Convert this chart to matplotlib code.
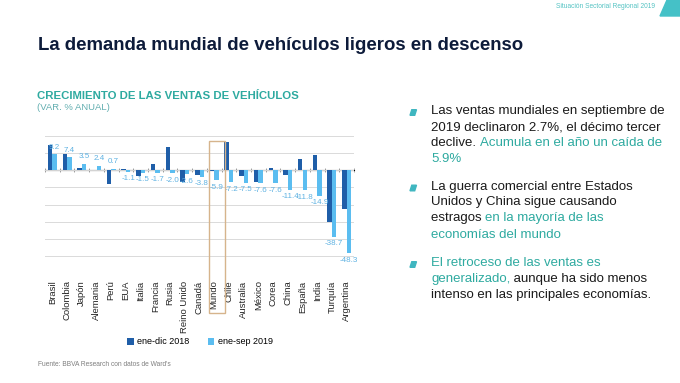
import matplotlib.pyplot as plt
from matplotlib.patches import Rectangle, Polygon

plt.rcParams['font.family'] = ['Liberation Sans', 'DejaVu Sans']

W, H = 680, 383

countries = ["Brasil", "Colombia", "Japón", "Alemania", "Perú", "EUA", "Italia",
             "Francia", "Rusia", "Reino Unido", "Canadá", "Mundo", "Chile",
             "Australia", "México", "Corea", "China", "España", "India",
             "Turquía", "Argentina"]
v2018 = [14.3, 9.5, 1.0, -0.2, -8.3, 0.6, -3.5, 3.3, 13.5, -7.0, -2.7, -0.5,
         16.0, -3.3, -7.1, 1.4, -2.9, 6.2, 8.9, -30.0, -22.6]
v2019 = [9.2, 7.4, 3.5, 2.4, 0.7, -1.1, -1.5, -1.7, -2.0, -2.6, -3.8, -5.9,
         -7.2, -7.5, -7.6, -7.6, -11.4, -11.8, -14.9, -38.7, -48.3]
series_names = ["ene-dic 2018", "ene-sep 2019"]
highlight = "Mundo"

DARK = "#1f5ea8"
LIGHT = "#5bbdf0"
LABEL_C = "#5fb2e2"
TEAL = "#2eaaa0"
NAVY = "#0d1b3a"
INK = "#1a1a1a"


def fx(px):
    return px / W


def fy(py):
    return 1 - py / H


fig = plt.figure(figsize=(W / 100, H / 100), dpi=100)
fig.patch.set_facecolor("white")

# header
fig.text(fx(38), fy(45), "La demanda mundial de vehículos ligeros en descenso",
         fontsize=13.4, fontweight="bold", color=NAVY, va="center", ha="left")
fig.text(fx(655), fy(7), "Situación Sectorial Regional 2019", fontsize=4.8,
         color="#55c3c3", va="center", ha="right")
fig.patches.append(Polygon([(fx(660), fy(16)), (fx(667), fy(0)), (fx(680), fy(0)),
                            (fx(680), fy(16))], closed=True, color="#45c1c7",
                           transform=fig.transFigure, figure=fig))

fig.text(fx(37), fy(96), "CRECIMIENTO DE LAS VENTAS DE VEHÍCULOS", fontsize=8.2,
         fontweight="bold", color=TEAL, va="center", ha="left")
fig.text(fx(37), fy(107.5), "(VAR. % ANUAL)", fontsize=6.8, color="#62aeb0",
         va="center", ha="left")

# chart
ax = fig.add_axes([fx(45), fy(273.5), fx(354) - fx(45), fy(135.5) - fy(273.5)])
x = list(range(len(countries)))
bw = 0.31
ax.bar([i - bw / 2 for i in x], v2018, width=bw, color=DARK, label=series_names[0], zorder=3)
bars = ax.bar([i + bw / 2 for i in x], v2019, width=bw, color=LIGHT, label=series_names[1], zorder=3)
for rect, v in zip(bars, v2019):
    cx = rect.get_x() + rect.get_width() / 2
    if v >= 0:
        ax.annotate(f"{v:.1f}", (cx, v), xytext=(0, 2.5), textcoords="offset points",
                    ha="center", va="bottom", fontsize=5.8, color=LABEL_C)
    else:
        ax.annotate(f"{v:.1f}", (cx, v), xytext=(0, -2.5), textcoords="offset points",
                    ha="center", va="top", fontsize=5.8, color=LABEL_C)

ymin, ymax = -60, 20
ax.set_ylim(ymin, ymax)
ax.set_xlim(-0.5, len(countries) - 0.5)
ax.set_yticks(range(ymin, ymax + 1, 10))
ax.tick_params(axis="y", left=False, labelleft=False)
ax.grid(axis="y", color="#dadada", linewidth=0.7, zorder=0)
ax.set_axisbelow(True)
for s in ax.spines.values():
    s.set_visible(False)
ax.set_xticks(x)
ax.set_xticklabels(countries, rotation=90, fontsize=6.8, color="#262626")
ax.tick_params(axis="x", length=0, pad=5)

# zero line with category ticks
zero = ax.secondary_xaxis((0 - ymin) / (ymax - ymin))
zero.set_xticks([i - 0.5 for i in range(len(countries) + 1)])
zero.set_xticklabels([])
zero.tick_params(axis="x", length=3, direction="inout", color="#a6a6a6", width=0.7)
zero.spines["bottom"].set_color("#a6a6a6")
zero.spines["bottom"].set_linewidth(0.8)

hi = countries.index(highlight)
ax.add_patch(Rectangle((hi - 0.35, -83), 1.1, 100, fill=False, edgecolor="#d6b48c",
                       linewidth=1.0, clip_on=False, zorder=5))

fig.legend(loc="center", bbox_to_anchor=(fx(200), fy(342)), ncol=2, frameon=False,
           fontsize=6.5, handlelength=0.7, handleheight=0.7, handletextpad=0.4,
           columnspacing=2.0)

fig.text(fx(38), fy(365), "Fuente: BBVA Research con datos de Ward's", fontsize=4.8,
         color="#7f7f7f", va="center", ha="left")

# right-hand notes
paragraphs = [
    [[("Las ventas mundiales en septiembre de", INK)],
     [("2019 declinaron 2.7%, el décimo tercer", INK)],
     [("declive. ", INK), ("Acumula en el año un caída de", TEAL)],
     [("5.9%", TEAL)]],
    [[("La guerra comercial entre Estados", INK)],
     [("Unidos y China sigue causando", INK)],
     [("estragos ", INK), ("en la mayoría de las", TEAL)],
     [("economías del mundo", TEAL)]],
    [[("El retroceso de las ventas es", TEAL)],
     [("generalizado,", TEAL), (" aunque ha sido menos", INK)],
     [("intenso en las principales economías.", INK)]],
]
para_top = [111, 186.5, 263]
line_step = 16
renderer = fig.canvas.get_renderer()
for top, lines in zip(para_top, paragraphs):
    bx, by = 410, top + 1.5
    fig.patches.append(Polygon([(fx(bx), fy(by + 2.8)), (fx(bx + 1.8), fy(by - 2.8)),
                                (fx(bx + 6.5), fy(by - 2.8)), (fx(bx + 4.7), fy(by + 2.8))],
                               closed=True, color="#3fb6c0", transform=fig.transFigure,
                               figure=fig))
    for k, segs in enumerate(lines):
        xpos = fx(431)
        ypos = fy(top + k * line_step)
        for txt, col in segs:
            t = fig.text(xpos, ypos, txt, fontsize=9.5, color=col, va="center", ha="left")
            bb = t.get_window_extent(renderer=renderer)
            xpos = bb.x1 / W

fig.savefig("out.png", dpi=100)
